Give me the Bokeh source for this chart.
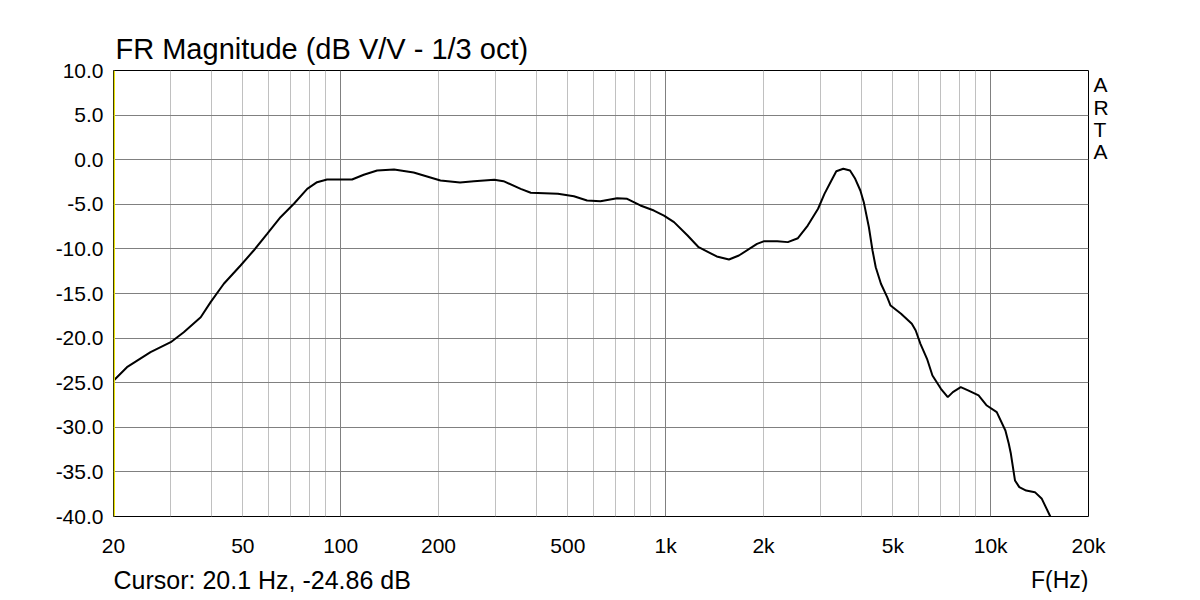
from bokeh.plotting import figure
from bokeh.models import FixedTicker, Span, Label, Range1d, NumeralTickFormatter, LinearAxis
from bokeh.layouts import column
from bokeh.embed import file_html
from bokeh.resources import INLINE

# ---- data ----
freq_hz = [20.1, 22.0, 26.0, 30.0, 32.9, 37.1, 39.8, 43.7, 49.2, 54.0, 59.4, 65.3, 71.8,
           78.9, 84.6, 90.8, 108.4, 117.8, 129.5, 146, 167.7, 202.8, 233, 257, 297, 317,
           358, 384.6, 466, 522, 573, 630, 709, 761, 836, 920, 988, 1061, 1168, 1263,
           1376, 1436, 1566, 1680, 1910, 2010, 2204, 2376, 2552, 2736, 2944, 3080, 3236,
           3350, 3520, 3692, 3830, 3972, 4070, 4220, 4330, 4430, 4596, 4804, 4920, 5300,
           5720, 5880, 6080, 6370, 6620, 7030, 7380, 7650, 8090, 8520, 9180, 9730, 10440,
           11100, 11370, 11540, 11880, 12250, 12860, 13680, 14370, 15260]
mag_db = [-24.7, -23.26, -21.58, -20.46, -19.34, -17.66, -15.97, -13.91, -11.86, -10.18,
          -8.31, -6.45, -4.94, -3.27, -2.52, -2.22, -2.22, -1.69, -1.21, -1.10, -1.43,
          -2.33, -2.56, -2.41, -2.25, -2.41, -3.27, -3.71, -3.83, -4.09, -4.57, -4.65,
          -4.31, -4.38, -5.13, -5.70, -6.26, -7.0, -8.50, -9.81, -10.5, -10.85, -11.19,
          -10.74, -9.43, -9.13, -9.13, -9.24, -8.80, -7.38, -5.50, -3.83, -2.33, -1.29,
          -1.02, -1.21, -2.14, -3.45, -4.76, -7.57, -10.18, -12.05, -13.91, -15.41,
          -16.35, -17.28, -18.40, -19.15, -20.64, -22.32, -24.19, -25.68, -26.62, -26.06,
          -25.50, -25.87, -26.43, -27.56, -28.30, -30.36, -31.85, -32.97, -35.96, -36.71,
          -37.09, -37.27, -38.02, -40.0]

x_label_ticks = [20, 50, 100, 200, 500, 1000, 2000, 5000, 10000, 20000]
x_label_text = ["20", "50", "100", "200", "500", "1k", "2k", "5k", "10k", "20k"]
x_major_grid = [100, 1000, 10000]
x_minor_grid = [30, 40, 50, 60, 70, 80, 90,
                200, 300, 400, 500, 600, 700, 800, 900,
                2000, 3000, 4000, 5000, 6000, 7000, 8000, 9000]
y_ticks = [-40, -35, -30, -25, -20, -15, -10, -5, 0, 5, 10]

title_text = "FR Magnitude (dB V/V - 1/3 oct)"
cursor_text = "Cursor: 20.1 Hz, -24.86 dB"
xunit_text = "F(Hz)"
brand_letters = ["A", "R", "T", "A"]
brand_slots = [8.43, 5.80, 3.39, 0.95]   # dB positions of the stacked brand letters
cursor_freq = 20.1

FONT = "Liberation Sans"
XMIN, XMAX, YMIN, YMAX = 20, 20000, -40, 10
W = 1184
LEFT, FRAME_W, TOP, FRAME_H = 113, 975, 70, 446
MAIN_H = 560
FOOT_H = 32

p = figure(width=W, height=MAIN_H, x_axis_type="log",
           x_range=Range1d(XMIN, XMAX), y_range=Range1d(YMIN, YMAX),
           output_backend="svg", toolbar_location=None,
           min_border_left=LEFT, min_border_right=W - LEFT - FRAME_W,
           min_border_top=TOP, min_border_bottom=MAIN_H - TOP - FRAME_H)
p.background_fill_color = "white"
p.border_fill_color = "white"
p.outline_line_color = "black"
p.outline_line_width = 1

p.xaxis.ticker = FixedTicker(ticks=x_label_ticks)
p.xaxis.major_label_overrides = {t: s for t, s in zip(x_label_ticks, x_label_text)}
p.yaxis.ticker = FixedTicker(ticks=y_ticks)
p.yaxis.formatter = NumeralTickFormatter(format="0.0")

brand_axis = LinearAxis(ticker=FixedTicker(ticks=brand_slots),
                        major_label_overrides={v: s for v, s in zip(brand_slots, brand_letters)})
p.add_layout(brand_axis, "right")

for ax in (p.xaxis[0], p.yaxis[0], brand_axis):
    ax.axis_line_color = None
    ax.major_tick_line_color = None
    ax.minor_tick_line_color = None
    ax.major_tick_out = 0
    ax.major_tick_in = 0
    ax.major_label_text_font = FONT
    ax.major_label_text_font_size = "21px"
    ax.major_label_text_color = "black"
p.yaxis[0].major_label_standoff = 10
brand_axis.major_label_standoff = 5
p.xaxis.major_label_standoff = 17

p.xgrid.ticker = FixedTicker(ticks=x_major_grid, minor_ticks=x_minor_grid)
p.xgrid.grid_line_color = "#808080"
p.xgrid.minor_grid_line_color = "#c0c0c0"
p.ygrid.ticker = FixedTicker(ticks=y_ticks)
p.ygrid.grid_line_color = "#808080"

p.title.text = title_text
p.title.text_font = FONT
p.title.text_font_size = "29px"
p.title.text_font_style = "normal"
p.title.text_color = "black"
p.title.align = "left"
p.title.offset = 2
p.title.standoff = 11

p.add_layout(Span(location=cursor_freq, dimension="height", line_color="#e8e000", line_width=1.5))

p.line(freq_hz, mag_db, line_color="black", line_width=2)

# footer strip (its frame is aligned with the main frame by the column layout)
foot = figure(width=W, height=FOOT_H, x_axis_type="log",
              x_range=Range1d(XMIN, XMAX), y_range=Range1d(FOOT_H, 0),
              output_backend="svg", toolbar_location=None,
              x_axis_location=None, y_axis_location=None, min_border=0)
foot.outline_line_color = None
foot.xgrid.visible = False
foot.ygrid.visible = False
foot.background_fill_color = "white"
foot.border_fill_color = "white"
foot_mid = 579 - MAIN_H
foot.add_layout(Label(x=XMIN, y=foot_mid, text=cursor_text, text_font=FONT,
                      text_font_size="25px", text_align="left", text_baseline="middle",
                      text_color="black"))
foot.add_layout(Label(x=XMAX, y=foot_mid, text=xunit_text, text_font=FONT,
                      text_font_size="23px", text_align="right", text_baseline="middle",
                      text_color="black"))

layout = column(p, foot, spacing=0)
open("out.html", "w").write(file_html(layout, INLINE))
